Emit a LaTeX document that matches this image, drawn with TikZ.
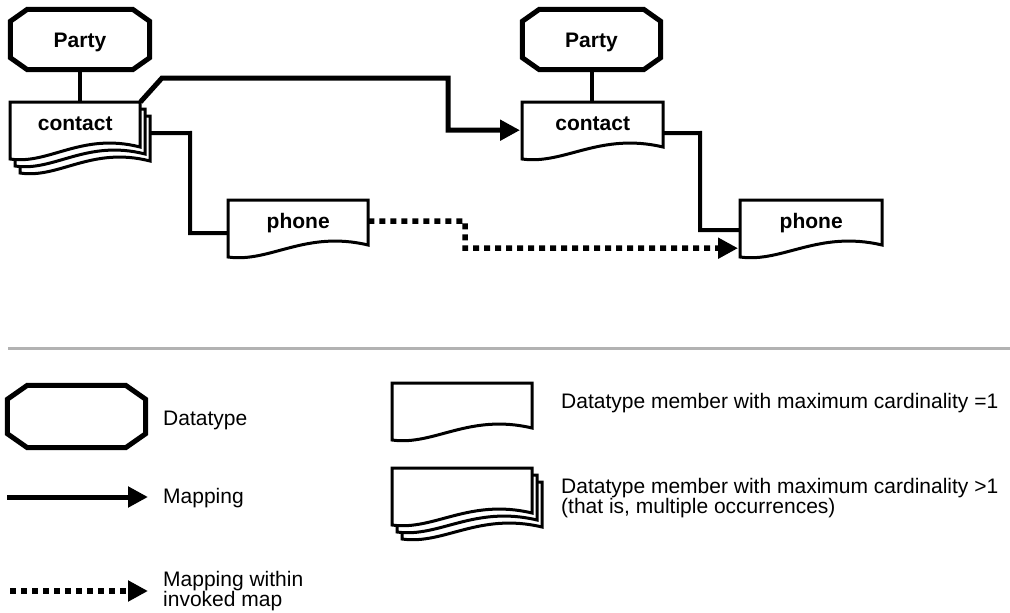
\documentclass[tikz,border=0pt]{standalone}
\usepackage{fontspec}
\setmainfont{Liberation Sans}
\usetikzlibrary{arrows.meta,calc}

\newcommand\docshapeat[3]{%
  \filldraw[docline] (#1,#2) -- ({#1+#3},#2) -- ({#1+#3},{#2+45})
    .. controls ({#1+0.55*#3},{#2+30}) and ({#1+0.3*#3},{#2+63}) .. (#1,{#2+57}) -- cycle;}
\newcommand\octof[3]{%
  \draw[octline] ([xshift=#2]#1.north west) -- ([xshift=-#2]#1.north east)
    -- ([yshift=-#3]#1.north east) -- ([yshift=#3]#1.south east)
    -- ([xshift=-#2]#1.south east) -- ([xshift=#2]#1.south west)
    -- ([yshift=#3]#1.south west) -- ([yshift=-#3]#1.north west) -- cycle;}
\newcommand\tightlinesA{\fontsize{21}{20}\selectfont\lineskiplimit=-50pt\relax}
\newcommand\tightlinesB{\fontsize{21}{20}\selectfont\lineskiplimit=-50pt\relax}

\begin{document}
\begin{tikzpicture}[x=1pt,y=-1pt,
  every node/.style={font=\fontsize{21}{19}\selectfont},
  docnode/.style={font=\fontsize{21}{19}\selectfont\bfseries, text height=11pt, text depth=0pt,
    draw=none, inner sep=0pt, minimum height=45pt, anchor=north west},
  octnode/.style={font=\fontsize{21}{19}\selectfont\bfseries, draw=none, inner sep=0pt,
    text height=15pt, text depth=0pt},
  octline/.style={line width=5pt, line join=miter},
  docline/.style={line width=3pt, fill=white, draw=black},
  conn/.style={line width=4pt},
  mapline/.style={line width=5pt, -{Triangle[length=20pt,width=20pt]}},
  dotline/.style={line width=5.5pt, dash pattern=on 6pt off 5pt, -{Triangle[length=20pt,width=20pt]}},
  legtxt/.style={anchor=base west, align=left, inner sep=0pt}]

\useasboundingbox (0,0) rectangle (1010,613);

% ---- top diagram: datatypes
\node[octnode, minimum width=139pt, minimum height=60pt] (partyL) at (80,39.5) {Party};
\node[octnode, minimum width=138pt, minimum height=60pt] (partyR) at (591.5,39.5) {Party};
\octof{partyL}{17pt}{12pt}
\octof{partyR}{17pt}{12pt}

% ---- document members
\docshapeat{20}{116}{130}
\docshapeat{15}{109}{130}
\docshapeat{10}{102}{130}
\node[docnode, minimum width=130pt] (contactL) at (10,102) {contact};

\docshapeat{522}{102}{141}
\node[docnode, minimum width=141pt] (contactR) at (522,102) {contact};

\docshapeat{228}{200}{140}
\node[docnode, minimum width=140pt] (phoneL) at (228,200) {phone};

\docshapeat{740}{200}{142}
\node[docnode, minimum width=142pt] (phoneR) at (740,200) {phone};

% ---- connectors
\draw[conn] (partyL.south) -- (partyL.south |- contactL.north);
\draw[conn] (partyR.south) -- (partyR.south |- contactR.north);

\coordinate (mA) at (162,78);
\coordinate (mB) at (448,78);
\draw[mapline, shorten >=2pt] (contactL.north east) -- (mA) -- (mB) |- ([yshift=-5.5pt]contactR.west);

\coordinate (sA) at (190,133);
\draw[conn] ([xshift=10pt,yshift=-8.5pt]contactL.east) -- (sA) |- ([yshift=-10.5pt]phoneL.west);

\coordinate (rA) at (700,133);
\draw[conn] ([yshift=-8.5pt]contactR.east) -- (rA) |- ([yshift=-7.5pt]phoneR.west);

\coordinate (dA) at (465,221);
\draw[dotline, shorten >=2pt] ([yshift=1.5pt]phoneL.east) -- (dA) |- ([yshift=-25.5pt]phoneR.west);

% ---- separator
\coordinate (gL) at (8,348);
\coordinate (gR) at (1010,348);
\draw[line width=3pt, black!30] (gL) -- (gR);

% ---- legend
\node[octnode, minimum width=138pt, minimum height=62pt] (legOct) at (76.5,416.5) {};
\octof{legOct}{20pt}{14pt}
\node[legtxt] (legDt) at (163,425) {Datatype};

\coordinate (lm1) at (7,497);
\coordinate (lm2) at (148,497);
\draw[mapline] (lm1) -- (lm2);
\node[legtxt] (legMap) at (163,503) {Mapping};

\coordinate (ld1) at (10,591);
\coordinate (ld2) at (148,591);
\draw[dotline] (ld1) -- (ld2);
\node[legtxt, font=\tightlinesA] (legDot) at (163,606) {Mapping within\\invoked map};

\docshapeat{392}{383}{140}
\node[docnode, minimum width=140pt] (legDoc1) at (392,383) {};
\node[legtxt] (legDocTxt1) at (561,408) {Datatype member with maximum cardinality =1};

\docshapeat{402}{482}{140}
\docshapeat{397}{475}{140}
\docshapeat{392}{468}{140}
\node[docnode, minimum width=140pt] (legDoc2) at (392,468) {};
\node[legtxt, font=\tightlinesB] (legDocTxt2) at (561,513) {Datatype member with maximum cardinality >1\\(that is, multiple occurrences)};

\end{tikzpicture}
\end{document}
